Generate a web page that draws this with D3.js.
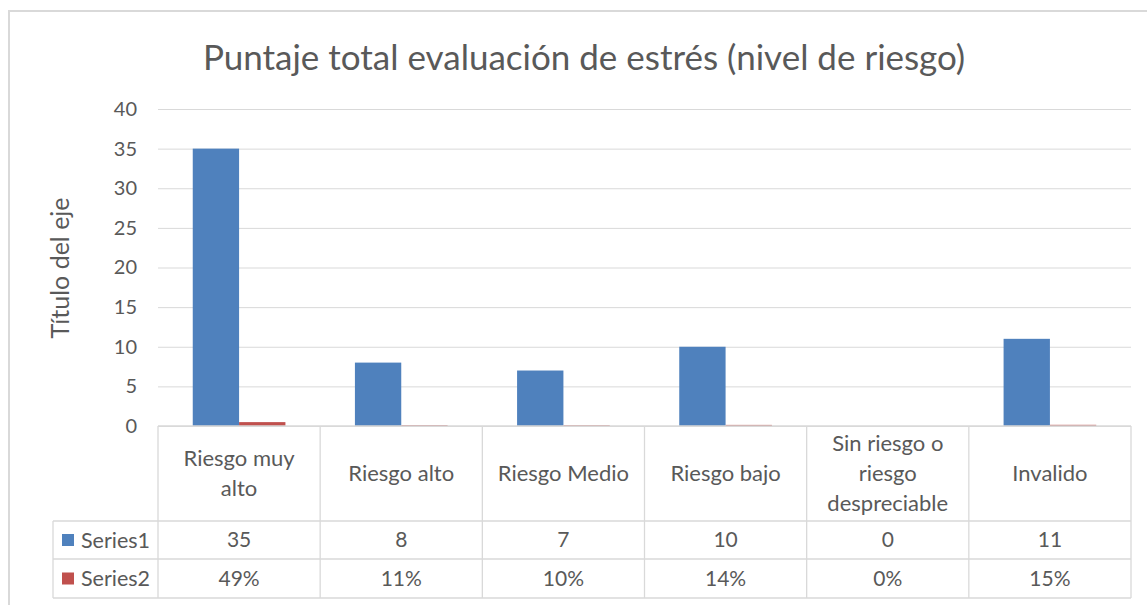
<!DOCTYPE html>
<html>
<head>
<meta charset="utf-8">
<script src="https://cdn.jsdelivr.net/npm/d3@7"></script>
<style>
  body { margin: 0; background: #fff; }
  text { font-family: Lato, "Open Sans", sans-serif; fill: #595959; }
</style>
</head>
<body>
<script>
var svgWidth = 1147;
var svgHeight = 605;

// data
var categories = ["Riesgo muy alto", "Riesgo alto", "Riesgo Medio", "Riesgo bajo",
                  "Sin riesgo o riesgo despreciable", "Invalido"];
var seriesNames = ["Series1", "Series2"];
var series1 = [35, 8, 7, 10, 0, 11];
var series2 = [0.49, 0.11, 0.10, 0.14, 0, 0.15];
var yTicks = [0, 5, 10, 15, 20, 25, 30, 35, 40];
var colors = ["#4f81bd", "#c0504d"];

var chartTitle = "Puntaje total evaluación de estrés (nivel de riesgo)";
var axisTitle = "Título del eje";

var plot = {left: 158, right: 1131, top: 109, bottom: 426};
var rows = {header: 521, s1: 559, s2: 598};
var legendLeft = 53;
var gridColor = "#d9d9d9";

var svg = d3.select("body")
  .append("svg")
  .attr("width", svgWidth)
  .attr("height", svgHeight);

// chart border
svg.append("path")
  .attr("d", "M9,605 V11 H1147")
  .attr("fill", "none")
  .attr("stroke", gridColor)
  .attr("stroke-width", 2);

// scales
var xScale = d3.scaleBand()
  .domain(categories)
  .range([plot.left, plot.right]);

var xSub = d3.scaleBand()
  .domain(seriesNames)
  .range([0, xScale.bandwidth()])
  .paddingInner(0)
  .paddingOuter(0.75);

var yScale = d3.scaleLinear()
  .domain([0, 40])
  .range([plot.bottom, plot.top]);

// y axis with gridlines
var yAxis = d3.axisLeft(yScale)
  .tickValues(yTicks)
  .tickSize(-(plot.right - plot.left))
  .tickPadding(21);

var gY = svg.append("g")
  .attr("transform", "translate(" + plot.left + ",0)")
  .call(yAxis);
gY.select(".domain").remove();
gY.selectAll(".tick line").attr("stroke", gridColor);
gY.selectAll(".tick text")
  .style("font-size", "20px")
  .attr("fill", "#595959");

// bars
var table = categories.map(function(c, i) {
  return {cat: c, values: [series1[i], series2[i]]};
});

var groups = svg.selectAll(".cat")
  .data(table)
  .enter().append("g")
  .attr("class", "cat")
  .attr("transform", function(d) { return "translate(" + xScale(d.cat) + ",0)"; });

groups.selectAll("rect")
  .data(function(d) { return d.values.map(function(v, j) { return {s: seriesNames[j], v: v, j: j}; }); })
  .enter().append("rect")
  .attr("x", function(d) { return xSub(d.s); })
  .attr("width", xSub.bandwidth())
  .attr("y", function(d) { return yScale(d.v); })
  .attr("height", function(d) { return yScale(0) - yScale(d.v); })
  .attr("fill", function(d) { return colors[d.j]; });

// data table lines
var lines = svg.append("g").attr("stroke", gridColor).attr("stroke-width", 1.3);
lines.append("line").attr("x1", plot.left).attr("x2", plot.right)
  .attr("y1", plot.bottom).attr("y2", plot.bottom);
[rows.header, rows.s1, rows.s2].forEach(function(y) {
  lines.append("line").attr("x1", legendLeft).attr("x2", plot.right).attr("y1", y).attr("y2", y);
});
lines.append("line").attr("x1", legendLeft).attr("x2", legendLeft)
  .attr("y1", rows.header).attr("y2", rows.s2);
categories.forEach(function(c) {
  lines.append("line").attr("x1", xScale(c)).attr("x2", xScale(c))
    .attr("y1", plot.bottom).attr("y2", rows.s2);
});
lines.append("line").attr("x1", plot.right).attr("x2", plot.right)
  .attr("y1", plot.bottom).attr("y2", rows.s2);

// category labels, wrapped to cell width
function wrap(textSel, maxWidth, lineHeight, centerY) {
  textSel.each(function(d) {
    var t = d3.select(this);
    var words = d.split(" ");
    var linesOut = [];
    var cur = [];
    var probe = t.append("tspan");
    words.forEach(function(w) {
      var test = cur.concat([w]).join(" ");
      probe.text(test);
      if (probe.node().getComputedTextLength() > maxWidth && cur.length) {
        linesOut.push(cur.join(" "));
        cur = [w];
      } else {
        cur.push(w);
      }
    });
    linesOut.push(cur.join(" "));
    probe.remove();
    var y0 = centerY - (linesOut.length - 1) * lineHeight / 2;
    linesOut.forEach(function(l, k) {
      t.append("tspan")
        .attr("x", xScale(d) + xScale.bandwidth() / 2)
        .attr("y", y0 + k * lineHeight)
        .attr("dy", "0.35em")
        .text(l);
    });
  });
}

svg.append("g").selectAll("text")
  .data(categories)
  .enter().append("text")
  .attr("text-anchor", "middle")
  .style("font-size", "22px")
  .call(wrap, 142, 30, (plot.bottom + rows.header) / 2);

// table values
var pct = d3.format(".0%");
var rowData = [
  {name: seriesNames[0], vals: series1.map(String), y: (rows.header + rows.s1) / 2, color: colors[0]},
  {name: seriesNames[1], vals: series2.map(pct), y: (rows.s1 + rows.s2) / 2, color: colors[1]}
];

rowData.forEach(function(r) {
  svg.append("g").selectAll("text")
    .data(r.vals)
    .enter().append("text")
    .attr("x", function(d, i) { return xScale(categories[i]) + xScale.bandwidth() / 2; })
    .attr("y", r.y)
    .attr("dy", "0.35em")
    .attr("text-anchor", "middle")
    .style("font-size", "21px")
    .text(function(d) { return d; });

  svg.append("rect")
    .attr("x", 62).attr("y", r.y - 6)
    .attr("width", 12).attr("height", 12)
    .attr("fill", r.color);
  svg.append("text")
    .attr("x", 81).attr("y", r.y)
    .attr("dy", "0.35em")
    .style("font-size", "21.5px")
    .text(r.name);
});

// titles
svg.append("text")
  .attr("x", 584).attr("y", 58)
  .attr("dy", "0.35em")
  .attr("text-anchor", "middle")
  .style("font-size", "35px")
  .text(chartTitle);

svg.append("text")
  .attr("transform", "translate(60," + 268 + ") rotate(-90)")
  .attr("dy", "0.35em")
  .attr("text-anchor", "middle")
  .style("font-size", "25px")
  .text(axisTitle);
</script>
</body>
</html>
